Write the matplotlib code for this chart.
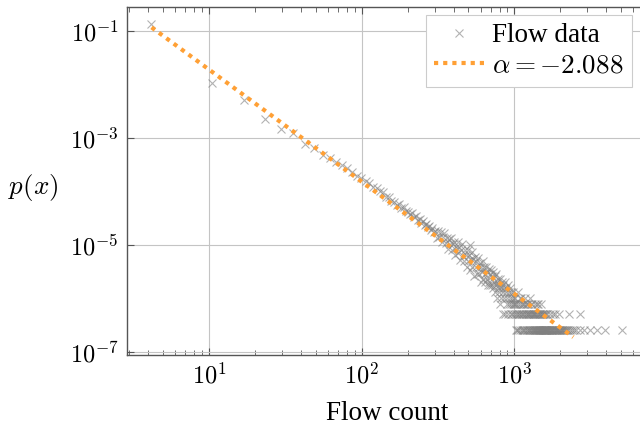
import numpy as np
import matplotlib
matplotlib.use("Agg")
import matplotlib.pyplot as plt
from matplotlib.ticker import NullLocator, LogLocator, NullFormatter

plt.rcParams['font.family'] = ['Liberation Serif', 'DejaVu Serif']
plt.rcParams['mathtext.fontset'] = 'cm'

# total number of observations, p(x) = n / N_TOTAL
N_TOTAL = 3.85e6

# flow counts and how often each was seen
head_x = [4.15, 10.5, 16.9, 23.3, 29.5, 35.5, 42.6, 48.7, 55.8, 61.5, 67.8, 74.1, 80.4, 86.7, 93.0]
head_n = [520000, 40400, 19600, 8850, 5700, 4740, 2990, 2540, 1840, 1600, 1380, 1180, 1050, 880, 760]

mid_x = [99, 106, 112, 118, 125, 131, 137, 144, 150, 156, 163, 169, 175, 182, 188, 194,
         201, 207, 213, 220, 226, 232, 239, 245, 251, 258, 264, 270, 277, 283, 289, 296]
mid_n = [700, 610, 560, 470, 440, 390, 370, 300, 310, 260, 250, 220, 225, 190, 195, 165,
         160, 145, 150, 128, 135, 112, 118, 100, 108, 90, 96, 82, 88, 75, 80, 68]

body_x = [303, 310, 316, 322, 329, 335, 341, 348, 354, 360, 367, 373, 379, 386, 392, 398,
          405, 411, 417, 424, 430, 436, 443, 449, 455, 462, 468, 474, 481, 487, 493, 500,
          506, 512, 515, 519, 525, 531, 538, 544, 550, 557, 563, 569, 576, 582, 588, 595,
          601, 607, 614, 620, 626, 633, 639, 645, 652, 658, 664, 671, 677, 683, 690, 696]
body_n = [71, 53, 70, 54, 67, 43, 55, 64, 42, 51, 33, 50, 40, 53, 31, 40,
          43, 25, 35, 44, 27, 36, 20, 31, 40, 24, 19, 31, 25, 15, 31, 19,
          25, 13, 38, 21, 28, 15, 21, 10, 23, 15, 19, 11, 22, 15, 11, 18,
          8, 15, 12, 19, 9, 15, 11, 8, 15, 9, 12, 7, 14, 8, 11, 7]

knee_x = [703, 709, 715, 722, 728, 734, 741, 747, 753, 760, 766, 772, 779, 785, 791, 798,
          804, 810, 817, 823, 829, 836, 842, 848, 855, 861, 867, 874, 880, 886, 893, 899,
          905, 912, 918, 924, 931, 937, 943, 950, 956, 962, 969, 975, 981, 988, 994, 1000]
knee_n = [13, 7, 10, 6, 12, 8, 5, 10, 7, 11, 4, 8, 6, 9, 5, 7,
          3, 9, 6, 4, 8, 5, 7, 2, 6, 4, 8, 2, 5, 6, 3, 4,
          7, 2, 5, 3, 4, 6, 2, 5, 3, 4, 2, 3, 5, 2, 4, 3]

tail_x = [1006, 1019, 1031, 1044, 1057, 1069, 1082, 1095, 1107, 1120, 1133, 1145, 1158, 1171,
          1183, 1196, 1209, 1221, 1234, 1247, 1259, 1272, 1285, 1297, 1310, 1323, 1335, 1348,
          1361, 1373, 1386, 1399, 1411, 1424, 1437, 1449, 1462, 1475, 1487, 1500, 1513, 1525,
          1538, 1551, 1563, 1576, 1589, 1601, 1614, 1627, 1639, 1652, 1665, 1690, 1703, 1728,
          1741, 1766, 1779, 1804, 1830, 1842, 1868, 1893, 1919, 1950, 1957, 1995, 2020, 2058,
          2096, 2134, 2172, 2248, 2270, 2300, 2375, 2450, 2550, 2690, 2700, 2850, 3150, 3480,
          3920, 5070]
tail_n = [4, 2, 3, 1, 5, 2, 3, 1, 4, 2, 3, 2, 1, 4,
          2, 3, 1, 2, 3, 1, 2, 4, 1, 2, 3, 1, 2, 1,
          3, 2, 1, 2, 1, 3, 1, 2, 1, 2, 1, 3, 1, 2,
          1, 1, 2, 1, 1, 2, 1, 1, 2, 1, 1, 1, 2, 1,
          1, 1, 2, 1, 1, 2, 1, 1, 1, 2, 1, 1, 1, 1,
          1, 1, 1, 1, 2, 1, 1, 1, 1, 2, 1, 1, 1, 1,
          1, 1]

tail2_x = [1013, 1025, 1038, 1050, 1063, 1076, 1088, 1101, 1114, 1126, 1139, 1152, 1164,
           1177, 1190, 1202, 1215, 1228, 1240, 1253, 1266, 1278, 1291, 1304, 1316, 1329,
           1342, 1354, 1367, 1380, 1392, 1405, 1418, 1430, 1443, 1456, 1468, 1481, 1494,
           1506, 1519, 1532, 1544, 1557, 1570, 1582, 1595, 1608, 1620, 1646, 1677, 1715,
           1753, 1792, 1855, 1880, 1906, 1970, 2040, 2110, 2200]
tail2_n = [3, 1, 2, 3, 1, 2, 4, 2, 1, 3, 1, 2, 3,
           1, 2, 1, 3, 2, 1, 2, 1, 3, 2, 1, 2, 1,
           2, 1, 1, 2, 1, 3, 1, 2, 1, 1, 2, 1, 1,
           2, 1, 1, 2, 1, 1, 2, 1, 1, 1, 1, 1, 1,
           1, 1, 1, 1, 1, 1, 1, 1, 1]

# power-law fit
alpha = 2.088
fit_x = [4.2, 2430]
fit_p = [0.117, 1.9e-7]

flow_x = np.array(head_x + mid_x + body_x + knee_x + tail_x + tail2_x, dtype=float)
flow_p = np.array(head_n + mid_n + body_n + knee_n + tail_n + tail2_n, dtype=float) / N_TOTAL

fig = plt.figure(figsize=(6.4, 4.3), dpi=100)
ax = fig.add_axes([127 / 640, 1 - 355 / 430, 521 / 640, 348 / 430])

ax.plot(flow_x, flow_p, linestyle='none', marker='x', color='gray', alpha=0.6,
        markersize=6, markeredgewidth=0.8, label='Flow data')
line, = ax.plot(fit_x, fit_p, color='#ffa035', linewidth=3, solid_capstyle='butt',
                dash_capstyle='butt', label=r'$\alpha = -%.3f$' % alpha)
line.set_dashes((1, 1.2))

ax.set_xscale('log')
ax.set_yscale('log')
ax.set_xlim(2.9, 7500)
ax.set_ylim(8.79e-8, 0.281)

ax.set_yticks([1e-1, 1e-3, 1e-5, 1e-7])
ax.set_yticklabels([r'$10^{-1}$', r'$10^{-3}$', r'$10^{-5}$', r'$10^{-7}$'])
ax.yaxis.set_minor_locator(NullLocator())
ax.set_xticks([10, 100, 1000])
ax.set_xticklabels([r'$10^{1}$', r'$10^{2}$', r'$10^{3}$'])
ax.xaxis.set_minor_locator(LogLocator(base=10, subs=np.arange(2, 10)))
ax.xaxis.set_minor_formatter(NullFormatter())

ax.tick_params(which='both', direction='in', top=True, right=True,
               color='#555555', labelsize=17.5)
ax.tick_params(which='major', length=5, width=0.8, pad=6)
ax.tick_params(which='minor', length=3.5, width=0.6)
for s in ax.spines.values():
    s.set_color('#555555')
    s.set_linewidth(1.0)

ax.grid(True, which='major', color='#c4c4c4', linewidth=0.8)
ax.set_axisbelow(True)

ax.set_xlabel('Flow count', fontsize=19.5, labelpad=9)
ax.set_ylabel(r'$p(x)$', fontsize=19.5, rotation=0)
ax.yaxis.set_label_coords(-0.18, 0.48)
ax.yaxis.label.set_verticalalignment('center')
ax.yaxis.label.set_horizontalalignment('center')

leg = ax.legend(loc='upper right', bbox_to_anchor=(632 / 640, 1 - 15 / 430),
                bbox_transform=fig.transFigure, borderaxespad=0, fancybox=False,
                framealpha=1, edgecolor='#cccccc', fontsize=19.5, handlelength=1.85,
                borderpad=0.3, labelspacing=0.2, handletextpad=0.3)
leg.get_frame().set_linewidth(0.8)

fig.savefig('out.png', dpi=100)
